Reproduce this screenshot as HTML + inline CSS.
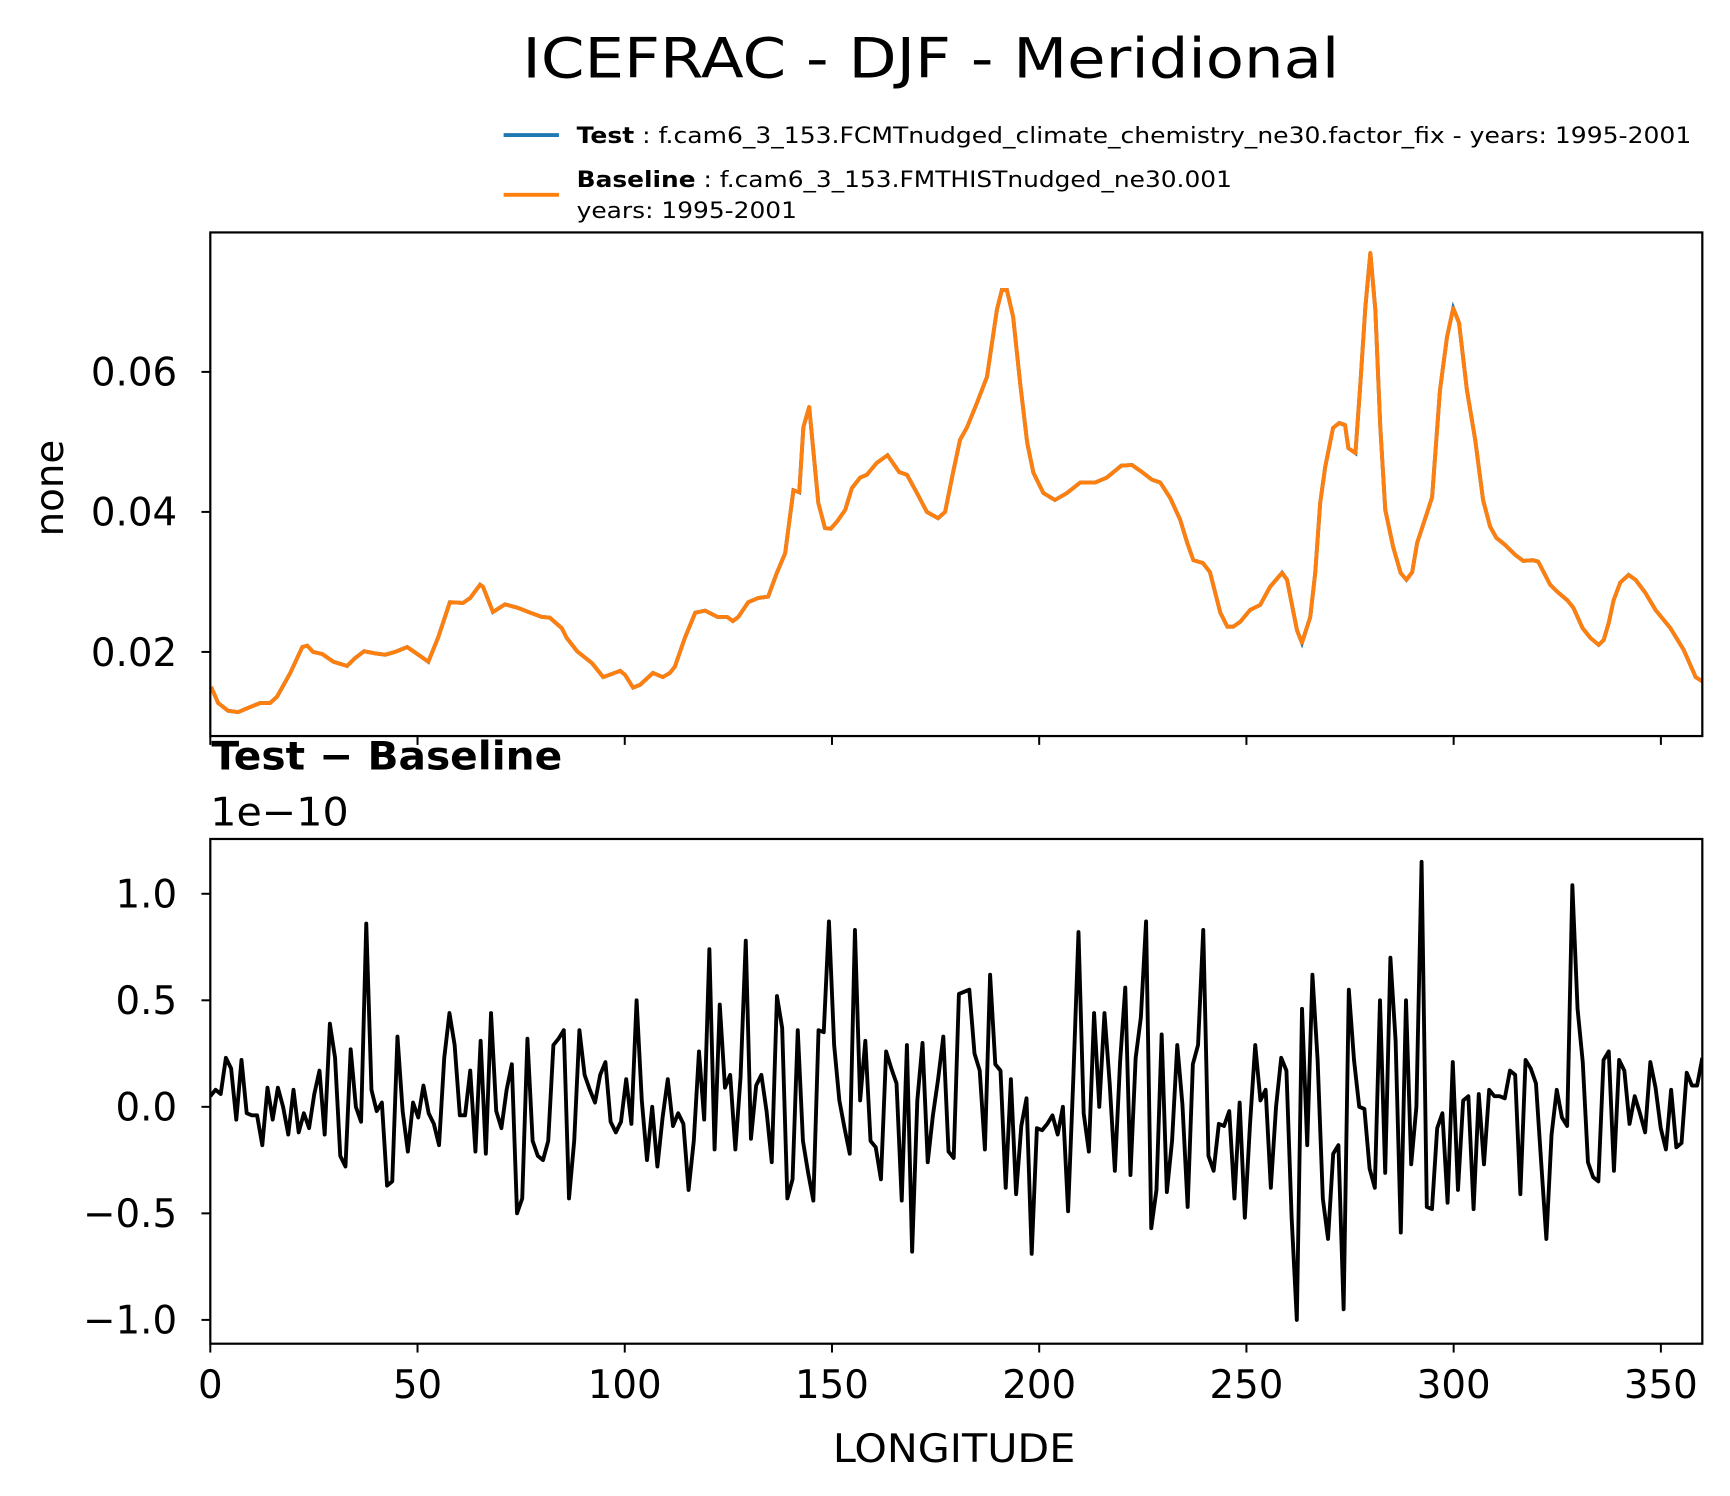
<!DOCTYPE html>
<html><head><meta charset="utf-8"><style>
html,body{margin:0;padding:0;background:#fff}
svg{display:block}
text{font-family:"DejaVu Sans","Liberation Sans",sans-serif;fill:#000}
</style></head><body>
<svg id="chart" width="1730" height="1496" viewBox="0 0 1563 1351.6" xmlns="http://www.w3.org/2000/svg">
<rect width="1563" height="1351.6" fill="#fff"/>
<text x="841" y="70" font-size="50" text-anchor="middle" textLength="738" lengthAdjust="spacingAndGlyphs">ICEFRAC - DJF - Meridional</text>
<g>
<line x1="455" y1="122" x2="505" y2="122" stroke="#1f77b4" stroke-width="3.5"/>
<text x="521" y="129" font-size="20" textLength="1007" lengthAdjust="spacingAndGlyphs"><tspan font-weight="bold">Test</tspan> : f.cam6_3_153.FCMTnudged_climate_chemistry_ne30.factor_fix - years: 1995-2001</text>
<line x1="455" y1="176" x2="505" y2="176" stroke="#ff7f0e" stroke-width="3.5"/>
<text x="521" y="169" font-size="20" textLength="592" lengthAdjust="spacingAndGlyphs"><tspan font-weight="bold">Baseline</tspan> : f.cam6_3_153.FMTHISTnudged_ne30.001</text>
<text x="521" y="197" font-size="20" textLength="199" lengthAdjust="spacingAndGlyphs">years: 1995-2001</text>
</g>
<g id="top"></g>
<g id="bot"></g>
<text transform="translate(57,441) rotate(-90)" font-size="35" text-anchor="middle">none</text>
<text x="191" y="695" font-size="35" font-weight="bold" textLength="317" lengthAdjust="spacingAndGlyphs">Test − Baseline</text>
<text x="190" y="746" font-size="35" textLength="125" lengthAdjust="spacingAndGlyphs">1e−10</text>
<text x="862" y="1321" font-size="35" text-anchor="middle" textLength="219" lengthAdjust="spacingAndGlyphs">LONGITUDE</text>
</svg>
<script>
const topLons=[0.2,1.9,4.3,6.7,9.1,12,14.4,16.1,19.3,22.2,23.4,24.8,27,29.7,33,34.9,37.1,39.7,42.2,44.6,47.5,50.2,52.6,55,57.8,61,62.7,65.1,65.8,68.2,71.1,74.2,77.2,80,81.9,84.8,86,88.5,92.1,94.8,98.9,100.1,102,103.7,106.8,109.2,110.9,112.1,114.5,117,119.4,122.4,124.7,126.1,127.4,129.8,132.2,134.6,136.7,138.7,140.7,142.1,143.1,144.5,146.7,148.3,149.7,151.2,153.2,154.8,156.8,158.4,160.8,163.4,166.2,168.1,170.5,172.9,175.6,177.3,179.2,180.9,182.6,185,187.4,189.8,191,192.2,193.7,195.4,197.1,198.6,201,203.8,206.7,209.9,213.5,216.3,219.8,222.4,224.8,227.2,229.2,231.6,234,235.7,237.2,239.5,241.2,243.7,245.4,246.8,248.5,250.9,253.3,255.7,258.6,259.8,262.2,263.4,265.4,266.6,267.8,269,270.9,272.4,273.8,274.6,276.3,277.5,278.7,279.9,281.1,282.3,283.5,285.4,287.2,288.6,290,291.2,293.6,294.8,296.7,298.4,299.9,301.3,303.2,305.2,307.1,308.8,310.3,312.4,314.8,316.8,319.2,320.4,323.3,325,327.4,328.9,331.1,333,335,336.2,337.4,338.6,340.2,342.2,343.9,346.3,348.7,352.3,355.5,358.4,360];
const topVals=[0.015,0.0127,0.0116,0.0114,0.012,0.0127,0.0127,0.0136,0.017,0.0207,0.0209,0.02,0.0197,0.0186,0.018,0.0191,0.0201,0.0198,0.0196,0.02,0.0207,0.0196,0.0186,0.0221,0.0271,0.027,0.0277,0.0296,0.0293,0.0257,0.0268,0.0263,0.0256,0.025,0.0249,0.0234,0.022,0.0201,0.0184,0.0164,0.0173,0.0167,0.0149,0.0153,0.017,0.0164,0.017,0.0179,0.022,0.0256,0.0259,0.025,0.025,0.0244,0.025,0.0271,0.0277,0.0279,0.0313,0.0341,0.0431,0.0428,0.0521,0.055,0.0413,0.0377,0.0376,0.0386,0.0403,0.0434,0.0449,0.0453,0.047,0.0481,0.0457,0.0453,0.0427,0.04,0.0391,0.04,0.0456,0.0503,0.0521,0.0556,0.0593,0.0689,0.0717,0.0717,0.0679,0.0584,0.0499,0.0456,0.0427,0.0417,0.0427,0.0442,0.0442,0.0449,0.0466,0.0467,0.0457,0.0446,0.0442,0.042,0.0389,0.0356,0.0331,0.0327,0.0314,0.0256,0.0236,0.0236,0.0243,0.026,0.0267,0.0293,0.0313,0.0303,0.0231,0.0213,0.025,0.0313,0.0413,0.0464,0.052,0.0527,0.0524,0.0491,0.0484,0.0584,0.0693,0.077,0.0689,0.0521,0.0403,0.035,0.0313,0.0303,0.0314,0.0356,0.0399,0.0421,0.0574,0.065,0.0691,0.067,0.0574,0.0503,0.0417,0.0379,0.0363,0.0353,0.0339,0.033,0.0331,0.0329,0.0296,0.0286,0.0274,0.0263,0.0234,0.022,0.021,0.0217,0.0241,0.0274,0.0299,0.031,0.0303,0.0284,0.026,0.0234,0.0203,0.0164,0.0158];
const diffVals=[0.05,0.08,0.06,0.23,0.18,-0.06,0.22,-0.03,-0.04,-0.04,-0.18,0.09,-0.06,0.09,0,-0.13,0.08,-0.12,-0.03,-0.10,0.06,0.17,-0.13,0.39,0.23,-0.23,-0.28,0.27,0,-0.07,0.86,0.08,-0.02,0.02,-0.37,-0.35,0.33,-0.02,-0.21,0.02,-0.05,0.10,-0.03,-0.08,-0.18,0.23,0.44,0.29,-0.04,-0.04,0.17,-0.21,0.31,-0.22,0.44,-0.02,-0.10,0.08,0.20,-0.50,-0.43,0.32,-0.16,-0.23,-0.25,-0.16,0.29,0.32,0.36,-0.43,-0.16,0.36,0.15,0.08,0.02,0.15,0.21,-0.07,-0.12,-0.07,0.13,-0.08,0.50,0.03,-0.25,0,-0.28,-0.05,0.13,-0.09,-0.03,-0.08,-0.39,-0.16,0.26,-0.06,0.74,-0.20,0.48,0.09,0.15,-0.20,0.14,0.78,-0.15,0.10,0.15,-0.02,-0.26,0.52,0.37,-0.43,-0.34,0.36,-0.16,-0.31,-0.44,0.36,0.35,0.87,0.29,0.03,-0.10,-0.22,0.83,0.03,0.31,-0.16,-0.19,-0.34,0.26,0.18,0.11,-0.44,0.29,-0.68,0.03,0.30,-0.26,-0.04,0.13,0.33,-0.21,-0.24,0.53,0.54,0.55,0.25,0.17,-0.20,0.62,0.20,0.17,-0.38,0.13,-0.41,-0.09,0.04,-0.69,-0.10,-0.11,-0.08,-0.04,-0.13,0,-0.49,0.13,0.82,-0.03,-0.21,0.44,0,0.44,0.11,-0.30,0.21,0.56,-0.32,0.23,0.42,0.87,-0.57,-0.39,0.34,-0.40,-0.16,0.29,0.01,-0.47,0.20,0.29,0.83,-0.23,-0.30,-0.08,-0.09,-0.02,-0.43,0.02,-0.52,-0.08,0.29,0.03,0.08,-0.38,0,0.23,0.17,-0.52,-1.0,0.46,-0.18,0.62,0.22,-0.43,-0.62,-0.22,-0.18,-0.95,0.55,0.22,0,-0.01,-0.29,-0.38,0.50,-0.31,0.70,0.31,-0.59,0.50,-0.27,0,1.15,-0.47,-0.48,-0.10,-0.03,-0.45,0.21,-0.39,0.03,0.05,-0.48,0.06,-0.27,0.08,0.05,0.05,0.04,0.17,0.15,-0.41,0.22,0.18,0.11,-0.26,-0.62,-0.13,0.08,-0.05,-0.09,1.04,0.46,0.21,-0.26,-0.33,-0.35,0.22,0.26,-0.30,0.22,0.17,-0.08,0.05,-0.03,-0.12,0.21,0.09,-0.10,-0.20,0.08,-0.19,-0.17,0.16,0.10,0.10,0.23];
const xTicks=[0,50,100,150,200,250,300,350];
const topYTicks=[0.02,0.04,0.06];
const topYTickLabels=["0.02","0.04","0.06"];
const botYTicks=[-1.0,-0.5,0.0,0.5,1.0];
const botYTickLabels=["\u22121.0","\u22120.5","0.0","0.5","1.0"];

const NS="http://www.w3.org/2000/svg";
const L=190,R=1538;
const xS=v=>L+(v/360)*(R-L);
function yTop(v){return 336+(0.06-v)/0.04*253;}
function yBot(v){return 1000-v*192.5;}
function mk(tag,attrs,parent){const e=document.createElementNS(NS,tag);for(const k in attrs)e.setAttribute(k,attrs[k]);parent.appendChild(e);return e;}
const TF=35;

const gt=document.getElementById('top'), gb=document.getElementById('bot');
let d=topLons.map((x,i)=>(i?'L':'M')+xS(x).toFixed(2)+' '+yTop(topVals[i]).toFixed(2)).join(' ');
const cp1=mk('clipPath',{id:'c1'},gt);mk('rect',{x:L,y:210,width:R-L,height:455},cp1);
const pl=mk('path',{d:d,fill:'none',stroke:'#1f77b4','stroke-width':3.5,'clip-path':'url(#c1)'},gt);


const pb=mk('path',{d:d,fill:'none',stroke:'#ff7f0e','stroke-width':3.5,'stroke-linejoin':'round','clip-path':'url(#c1)'},gt);


const f1=mk('rect',{x:L,y:210,width:R-L,height:455,fill:'none',stroke:'#000','stroke-width':2},gt);


topYTicks.forEach((v,i)=>{const y=yTop(v);
 mk('line',{x1:L-8,x2:L,y1:y,y2:y,stroke:'#000','stroke-width':1.8},gt);
 const t=mk('text',{x:L-30,y:y+12.5,'font-size':TF,'text-anchor':'end'},gt);t.textContent=topYTickLabels[i];
 
 });
xTicks.forEach(v=>{mk('line',{x1:xS(v),x2:xS(v),y1:665,y2:673,stroke:'#000','stroke-width':1.8},gt);});

const n=diffVals.length;
let d2=diffVals.map((v,i)=>(i?'L':'M')+xS(i*360/(n-1)).toFixed(2)+' '+yBot(v).toFixed(2)).join(' ');
const cp2=mk('clipPath',{id:'c2'},gb);mk('rect',{x:L,y:758,width:R-L,height:456},cp2);
const dl=mk('path',{d:d2,fill:'none',stroke:'#000','stroke-width':3.5,'stroke-linejoin':'round','clip-path':'url(#c2)'},gb);


const f2=mk('rect',{x:L,y:758,width:R-L,height:456,fill:'none',stroke:'#000','stroke-width':2},gb);


botYTicks.forEach((v,i)=>{const y=yBot(v);
 mk('line',{x1:L-8,x2:L,y1:y,y2:y,stroke:'#000','stroke-width':1.8},gb);
 const t=mk('text',{x:L-30,y:y+12.5,'font-size':TF,'text-anchor':'end'},gb);t.textContent=botYTickLabels[i];
 
 });
xTicks.forEach(v=>{mk('line',{x1:xS(v),x2:xS(v),y1:1214,y2:1222,stroke:'#000','stroke-width':1.8},gb);
 const t=mk('text',{x:xS(v),y:1263,'font-size':TF,'text-anchor':'middle'},gb);t.textContent=String(v);
 
 });
</script>
</body></html>
